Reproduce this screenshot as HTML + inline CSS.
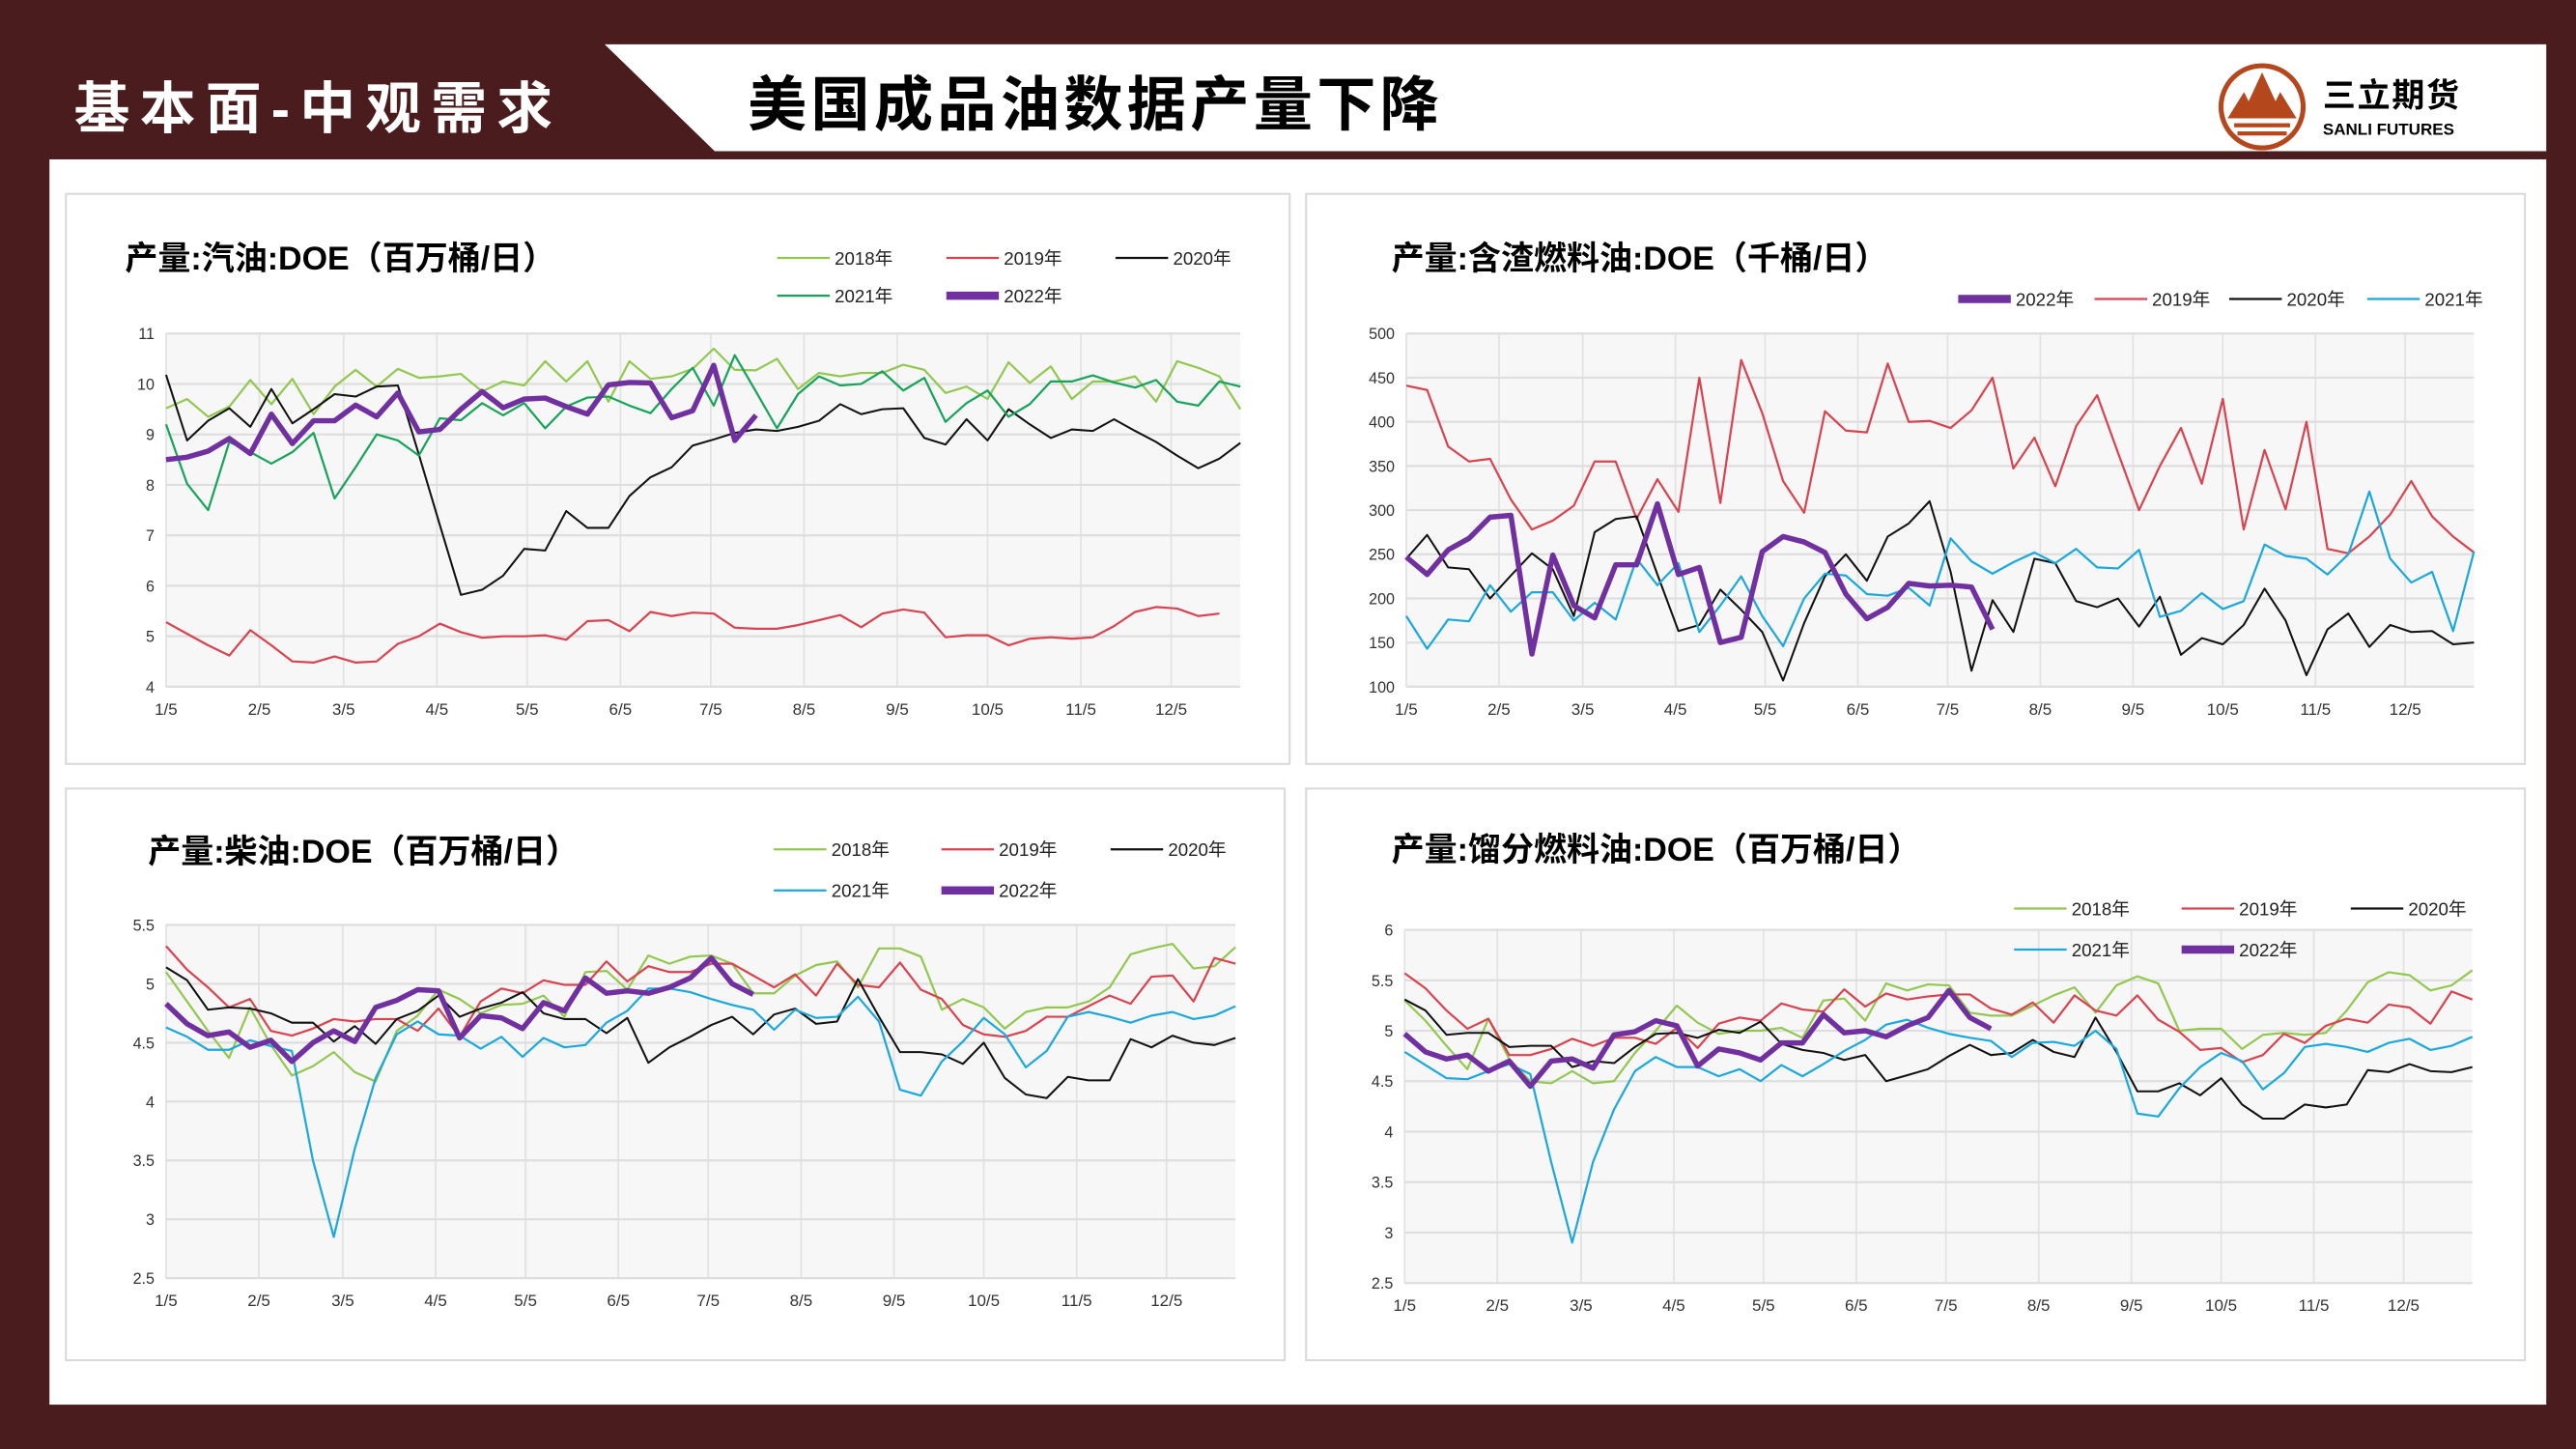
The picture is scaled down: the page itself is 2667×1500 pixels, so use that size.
<!DOCTYPE html>
<html><head><meta charset="utf-8">
<style>
html,body{margin:0;padding:0;background:#4a1c1e;}
svg{display:block;}
text{font-family:"Liberation Sans","Noto Sans CJK SC",sans-serif;}
</style></head>
<body>
<svg id="root" width="2667" height="1500" viewBox="0 0 1568 882" xmlns="http://www.w3.org/2000/svg">
<rect x="0" y="0" width="1568" height="882" fill="#4a1c1e"/>
<rect x="30" y="97" width="1520" height="758" fill="#ffffff"/>
<polygon points="368,27 1550,27 1550,92 435,92" fill="#ffffff"/>
<text x="45" y="78" font-size="34" font-weight="bold" fill="#ffffff" letter-spacing="6" font-family="'Noto Serif CJK SC','Noto Sans CJK SC',sans-serif">基本面-中观需求</text>
<text x="455" y="76" font-size="36" font-weight="bold" fill="#000" letter-spacing="2.5" font-family="'Noto Serif CJK SC','Noto Sans CJK SC',sans-serif">美国成品油数据产量下降</text>
<g>
<circle cx="1377" cy="65" r="25" fill="#fff" stroke="#b5471c" stroke-width="3"/>
<polygon points="1377,44 1364,72 1390,72" fill="#b5471c"/>
<polygon points="1366,56 1356,72 1374,72" fill="#b5471c"/>
<polygon points="1388,56 1380,72 1398,72" fill="#b5471c"/>
<rect x="1360" y="75" width="34" height="2.5" fill="#b5471c"/>
<rect x="1362" y="80" width="30" height="2.5" fill="#b5471c"/>
<text x="1414" y="65" font-size="20" font-weight="bold" fill="#000" letter-spacing="1">三立期货</text>
<text x="1414" y="82" font-size="10" font-weight="bold" fill="#000">SANLI FUTURES</text>
</g>
</svg>
<script>
// ===== Chart 1: gasoline =====
const c1Weeks = 52;
const c1Ticks = [4,5,6,7,8,9,10,11];
const c1_2018 = [9.52,9.7,9.35,9.55,10.08,9.6,10.1,9.4,9.95,10.28,9.95,10.3,10.12,10.15,10.2,9.85,10.05,9.97,10.45,10.05,10.45,9.65,10.45,10.1,10.15,10.3,10.7,10.28,10.27,10.5,9.9,10.22,10.15,10.22,10.22,10.38,10.28,9.82,9.95,9.7,10.43,10.02,10.35,9.7,10.05,10.05,10.15,9.65,10.45,10.32,10.15,9.5];
const c1_2019 = [5.28,5.05,4.82,4.62,5.12,4.82,4.5,4.48,4.6,4.48,4.5,4.85,5.0,5.25,5.08,4.97,5.0,5.0,5.02,4.93,5.3,5.32,5.1,5.48,5.4,5.47,5.45,5.17,5.15,5.15,5.22,5.32,5.42,5.18,5.45,5.53,5.47,4.98,5.02,5.02,4.82,4.95,4.98,4.95,4.98,5.2,5.48,5.58,5.55,5.4,5.45];
const c1_2020 = [10.18,8.88,9.27,9.52,9.15,9.9,9.22,9.5,9.8,9.75,9.95,9.97,8.6,7.2,5.82,5.92,6.2,6.73,6.7,7.48,7.15,7.15,7.78,8.15,8.35,8.78,8.9,9.03,9.1,9.07,9.15,9.27,9.6,9.4,9.5,9.52,8.93,8.8,9.3,8.88,9.5,9.2,8.93,9.1,9.07,9.3,9.07,8.85,8.58,8.33,8.52,8.83];
const c1_2021 = [9.2,8.02,7.5,8.85,8.65,8.42,8.65,9.03,7.73,8.35,9.0,8.88,8.58,9.32,9.28,9.62,9.38,9.62,9.12,9.55,9.73,9.75,9.57,9.42,9.9,10.32,9.57,10.57,9.85,9.12,9.8,10.15,9.97,10.0,10.25,9.87,10.12,9.25,9.62,9.87,9.35,9.6,10.05,10.05,10.17,10.03,9.93,10.08,9.65,9.57,10.05,9.95];
const c1_2022 = [8.5,8.55,8.67,8.92,8.62,9.4,8.82,9.27,9.27,9.58,9.35,9.82,9.05,9.1,9.5,9.85,9.53,9.7,9.72,9.55,9.4,9.98,10.03,10.02,9.33,9.47,10.37,8.88,9.38];

// ===== Chart 2: residual fuel oil =====
const c2Ticks = [100,150,200,250,300,350,400,450,500];
const c2_2019 = [441,436,372,355,358,312,278,288,305,355,355,290,335,298,450,308,470,410,333,297,412,390,388,466,400,401,393,413,450,347,382,327,395,430,365,300,350,393,330,426,278,368,301,400,256,251,270,295,333,293,270,252];
const c2_2020 = [245,272,235,233,200,226,251,233,180,275,290,293,227,163,170,210,187,162,107,172,225,250,220,270,285,310,230,118,198,162,245,240,197,190,200,168,202,136,155,148,170,211,175,113,165,183,145,170,162,163,148,150];
const c2_2021 = [180,143,176,174,215,185,207,207,175,195,176,245,215,240,162,192,225,180,146,200,228,226,205,203,212,192,268,242,228,241,252,240,256,235,234,255,179,186,206,188,197,261,248,245,227,250,321,245,218,230,163,253];
const c2_2022 = [247,227,255,268,292,294,137,249,192,178,238,238,307,227,235,150,156,253,270,264,252,205,177,190,217,214,215,213,165];

// ===== Chart 3: diesel =====
const c3Ticks = [2.5,3,3.5,4,4.5,5,5.5];
const c3_2018 = [5.1,4.85,4.6,4.37,4.8,4.48,4.22,4.3,4.42,4.25,4.17,4.6,4.73,4.95,4.87,4.75,4.82,4.83,4.9,4.72,5.1,5.11,4.95,5.24,5.17,5.23,5.24,5.17,4.92,4.92,5.07,5.16,5.19,4.97,5.3,5.3,5.23,4.78,4.87,4.8,4.62,4.76,4.8,4.8,4.85,4.97,5.25,5.3,5.34,5.13,5.15,5.31];
const c3_2019 = [5.32,5.12,4.97,4.8,4.87,4.6,4.56,4.62,4.7,4.68,4.7,4.7,4.6,4.79,4.55,4.85,4.96,4.92,5.03,4.99,4.99,5.19,5.02,5.15,5.1,5.1,5.17,5.17,5.07,4.97,5.08,4.9,5.17,4.99,4.97,5.18,4.95,4.87,4.65,4.57,4.55,4.6,4.72,4.72,4.81,4.9,4.83,5.06,5.07,4.85,5.22,5.17];
const c3_2020 = [5.14,5.03,4.78,4.8,4.79,4.75,4.67,4.67,4.51,4.64,4.49,4.7,4.77,4.9,4.72,4.79,4.84,4.93,4.75,4.7,4.7,4.58,4.71,4.33,4.46,4.55,4.65,4.72,4.57,4.74,4.79,4.66,4.68,5.04,4.72,4.42,4.42,4.4,4.32,4.5,4.2,4.06,4.03,4.21,4.18,4.18,4.53,4.46,4.56,4.5,4.48,4.54];
const c3_2021 = [4.63,4.55,4.44,4.44,4.52,4.47,4.43,3.5,2.85,3.6,4.2,4.57,4.68,4.57,4.56,4.45,4.55,4.38,4.54,4.46,4.48,4.67,4.77,4.96,4.96,4.93,4.87,4.82,4.78,4.61,4.78,4.71,4.72,4.89,4.68,4.1,4.05,4.34,4.51,4.71,4.57,4.29,4.43,4.72,4.76,4.72,4.67,4.73,4.76,4.7,4.73,4.81];
const c3_2022 = [4.83,4.66,4.56,4.59,4.46,4.52,4.34,4.5,4.6,4.51,4.8,4.86,4.95,4.94,4.54,4.73,4.71,4.62,4.84,4.77,5.05,4.92,4.94,4.92,4.97,5.05,5.22,5.0,4.91];

// ===== Chart 4: distillate fuel oil =====
const c4Ticks = [2.5,3,3.5,4,4.5,5,5.5,6];
const c4_2018 = [5.3,5.1,4.85,4.62,5.12,4.72,4.5,4.48,4.6,4.48,4.5,4.78,5.0,5.25,5.08,4.97,5.0,5.0,5.03,4.93,5.3,5.32,5.1,5.47,5.4,5.46,5.45,5.18,5.15,5.15,5.25,5.35,5.43,5.18,5.45,5.54,5.47,5.0,5.02,5.02,4.82,4.96,4.98,4.96,4.98,5.2,5.48,5.58,5.55,5.4,5.45,5.6];
const c4_2019 = [5.57,5.42,5.2,5.02,5.12,4.76,4.76,4.82,4.92,4.85,4.93,4.93,4.87,5.03,4.83,5.07,5.13,5.1,5.27,5.21,5.19,5.41,5.24,5.37,5.31,5.34,5.36,5.36,5.22,5.16,5.28,5.08,5.35,5.2,5.15,5.35,5.11,4.99,4.81,4.83,4.69,4.76,4.97,4.88,5.05,5.12,5.08,5.26,5.23,5.07,5.39,5.31];
const c4_2020 = [5.31,5.2,4.96,4.98,4.98,4.84,4.85,4.85,4.64,4.7,4.68,4.84,4.97,4.98,4.93,5.01,4.98,5.09,4.87,4.81,4.78,4.71,4.76,4.5,4.56,4.62,4.75,4.86,4.76,4.78,4.91,4.79,4.74,5.13,4.79,4.4,4.4,4.48,4.36,4.53,4.27,4.13,4.13,4.27,4.24,4.27,4.61,4.59,4.67,4.6,4.59,4.64];
const c4_2021 = [4.79,4.66,4.53,4.52,4.6,4.67,4.57,3.7,2.9,3.7,4.22,4.6,4.74,4.64,4.64,4.55,4.62,4.5,4.66,4.55,4.67,4.8,4.91,5.06,5.11,5.03,4.97,4.93,4.9,4.74,4.88,4.89,4.85,5.0,4.82,4.18,4.15,4.43,4.64,4.78,4.7,4.42,4.58,4.84,4.87,4.84,4.79,4.88,4.92,4.81,4.85,4.94];
const c4_2022 = [4.97,4.79,4.72,4.76,4.6,4.7,4.45,4.7,4.72,4.63,4.96,4.99,5.1,5.05,4.65,4.82,4.78,4.71,4.88,4.88,5.16,4.98,5.0,4.94,5.05,5.13,5.4,5.13,5.02];

const monthLabels = ['1/5','2/5','3/5','4/5','5/5','6/5','7/5','8/5','9/5','10/5','11/5','12/5'];
const monthDays = [0,31,59,90,120,151,181,212,243,273,304,334];

const NS='http://www.w3.org/2000/svg';
const root=document.getElementById('root');
function mk(tag,attrs,parent){const e=document.createElementNS(NS,tag);for(const k in attrs)e.setAttribute(k,attrs[k]);(parent||root).appendChild(e);return e;}

const COL={y2018:'#92c84f',y2019:'#d9434f',y2020:'#111111',g2021:'#16a35a',b2021:'#1ba8dc',y2022:'#7030a0'};

function drawChart(cfg){
  const g=mk('g',{});
  
  
  const panel=mk('rect',{x:cfg.px,y:cfg.py,width:cfg.pw,height:cfg.ph,fill:'#fff',stroke:'#d9d9d9','stroke-width':1.2},g);
  
  
  const t=mk('text',{x:cfg.tx,y:cfg.ty,'font-size':20,'font-weight':'bold',fill:'#000','font-family':"'Noto Sans CJK SC','Liberation Sans',sans-serif"},g);
  t.textContent=cfg.title;
  
  
  const x0=cfg.x0,x1=cfg.x1,y0=cfg.y0,y1=cfg.y1;
  const ticks=cfg.ticks;const vmin=ticks[0],vmax=ticks[ticks.length-1];
  const xs=i=>x0+i*(x1-x0)/51;
  const ys=v=>y1-(v-vmin)/(vmax-vmin)*(y1-y0);
  const bg=mk('rect',{x:x0,y:y0,width:x1-x0,height:y1-y0,fill:'#f7f7f7'},g);
  
  
  monthDays.forEach((d,i)=>{
    const x=xs(d/7);
    const l=mk('line',{x1:x,x2:x,y1:y0,y2:y1,stroke:'#e2e2e2','stroke-width':1},g);
    
    
    const tx=mk('text',{x:x,y:y1+17,'font-size':10,'text-anchor':'middle',fill:'#333'},g);
    tx.textContent=monthLabels[i];
    
    
  });
  ticks.forEach(v=>{
    const y=ys(v);
    const l=mk('line',{x1:x0,x2:x1,y1:y,y2:y,stroke:'#dedede','stroke-width':1.3},g);
    
    
    const tx=mk('text',{x:x0-7,y:y+3.5,'font-size':9.5,'text-anchor':'end',fill:'#333'},g);
    tx.textContent=String(v);
    
    
  });
  cfg.series.forEach(s=>{
    const pts=s.data.map((v,i)=>xs(i).toFixed(1)+','+ys(v).toFixed(1)).join(' ');
    const p=mk('polyline',{points:pts,fill:'none',stroke:s.color,'stroke-width':s.w,'stroke-linejoin':'round'},g);
    
    
  });
  cfg.legend.forEach(L=>{
    const s=cfg.series.find(q=>q.label===L.label);
    const lg=mk('g',{},g);
    
    
    mk('line',{x1:L.x,x2:L.x+32,y1:L.y,y2:L.y,stroke:s.color,'stroke-width':s.w>2?5:1.3},lg);
    const tx=mk('text',{x:L.x+35,y:L.y+4,'font-size':11,fill:'#222','font-family':"'Liberation Sans','Noto Sans CJK SC',sans-serif"},lg);
    tx.textContent=L.label+'年';
  });
}

drawChart({name:'gasoline-production-chart',title:'产量:汽油:DOE（百万桶/日）',px:40,py:118,pw:745,ph:347,tx:76,ty:164,
  x0:101,x1:755,y0:203,y1:418,ticks:c1Ticks,
  series:[{label:'2018',data:c1_2018,color:COL.y2018,w:1.3},{label:'2019',data:c1_2019,color:COL.y2019,w:1.3},{label:'2020',data:c1_2020,color:COL.y2020,w:1.2},{label:'2021',data:c1_2021,color:COL.g2021,w:1.3},{label:'2022',data:c1_2022,color:COL.y2022,w:3.2}],
  legend:[{label:'2018',x:473,y:157},{label:'2019',x:576,y:157},{label:'2020',x:679,y:157},{label:'2021',x:473,y:180},{label:'2022',x:576,y:180}]});
drawChart({name:'residual-fuel-production-chart',title:'产量:含渣燃料油:DOE（千桶/日）',px:795,py:118,pw:742,ph:347,tx:847,ty:164,
  x0:856,x1:1506,y0:203,y1:418,ticks:c2Ticks,
  series:[{label:'2019',data:c2_2019,color:COL.y2019,w:1.3},{label:'2020',data:c2_2020,color:COL.y2020,w:1.2},{label:'2021',data:c2_2021,color:COL.b2021,w:1.3},{label:'2022',data:c2_2022,color:COL.y2022,w:3.2}],
  legend:[{label:'2022',x:1192,y:182},{label:'2019',x:1275,y:182},{label:'2020',x:1357,y:182},{label:'2021',x:1441,y:182}]});
drawChart({name:'diesel-production-chart',title:'产量:柴油:DOE（百万桶/日）',px:40,py:480,pw:742,ph:348,tx:90,ty:525,
  x0:101,x1:752,y0:563,y1:778,ticks:c3Ticks,
  series:[{label:'2018',data:c3_2018,color:COL.y2018,w:1.3},{label:'2019',data:c3_2019,color:COL.y2019,w:1.3},{label:'2020',data:c3_2020,color:COL.y2020,w:1.2},{label:'2021',data:c3_2021,color:COL.b2021,w:1.3},{label:'2022',data:c3_2022,color:COL.y2022,w:3.2}],
  legend:[{label:'2018',x:471,y:517},{label:'2019',x:573,y:517},{label:'2020',x:676,y:517},{label:'2021',x:471,y:542},{label:'2022',x:573,y:542}]});
drawChart({name:'distillate-fuel-production-chart',title:'产量:馏分燃料油:DOE（百万桶/日）',px:795,py:480,pw:742,ph:348,tx:847,ty:524,
  x0:855,x1:1505,y0:566,y1:781,ticks:c4Ticks,
  series:[{label:'2018',data:c4_2018,color:COL.y2018,w:1.3},{label:'2019',data:c4_2019,color:COL.y2019,w:1.3},{label:'2020',data:c4_2020,color:COL.y2020,w:1.2},{label:'2021',data:c4_2021,color:COL.b2021,w:1.3},{label:'2022',data:c4_2022,color:COL.y2022,w:3.2}],
  legend:[{label:'2018',x:1226,y:553},{label:'2019',x:1328,y:553},{label:'2020',x:1431,y:553},{label:'2021',x:1226,y:578},{label:'2022',x:1328,y:578}]});
</script>
</body></html>
